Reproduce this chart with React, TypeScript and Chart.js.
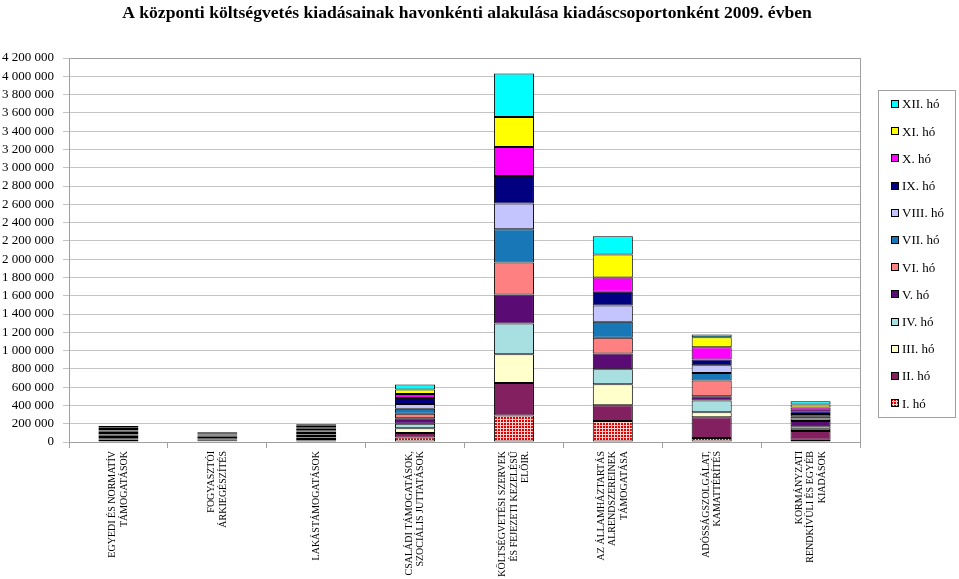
import React, { useEffect, useRef } from "react";
import { Chart, registerables } from "chart.js";

Chart.register(...registerables);

const TITLE = "A központi költségvetés kiadásainak havonkénti alakulása kiadáscsoportonként 2009. évben";

const categories: string[][] = [
  ["EGYEDI ÉS NORMATÍV", "TÁMOGATÁSOK"],
  ["FOGYASZTÓI", "ÁRKIEGÉSZÍTÉS"],
  ["LAKÁSTÁMOGATÁSOK"],
  ["CSALÁDI TÁMOGATÁSOK,", "SZOCIÁLIS JUTTATÁSOK"],
  ["KÖLTSÉGVETÉSI SZERVEK", "ÉS FEJEZETI KEZELÉSŰ", "ELŐIR."],
  ["AZ ÁLLAMHÁZTARTÁS", "ALRENDSZEREINEK", "TÁMOGATÁSA"],
  ["ADÓSSÁGSZOLGÁLAT,", "KAMATTÉRÍTÉS"],
  ["KORMÁNYZATI", "RENDKÍVÜLI ÉS EGYÉB", "KIADÁSOK"],
];

const monthLabels = ["I. hó", "II. hó", "III. hó", "IV. hó", "V. hó", "VI. hó", "VII. hó", "VIII. hó", "IX. hó", "X. hó", "XI. hó", "XII. hó"];

// values per month, one entry per category
const m01 = [12000, 9000, 17000, 48000, 289000, 230000, 45000, 25000];
const m02 = [14000, 9000, 17000, 50000, 357000, 172000, 225000, 96000];
const m03 = [14000, 9000, 16000, 52000, 314000, 230000, 55000, 25000];
const m04 = [15000, 9000, 16000, 50000, 336000, 164000, 128000, 25000];
const m05 = [14000, 9000, 15000, 60000, 317000, 172000, 47000, 60000];
const m06 = [14000, 9000, 17000, 50000, 350000, 171000, 172000, 25000];
const m07 = [16000, 9000, 16000, 55000, 364000, 175000, 84000, 25000];
const m08 = [14000, 9000, 15000, 50000, 281000, 179000, 83000, 25000];
const m09 = [14000, 9000, 16000, 65000, 302000, 149000, 62000, 30000];
const m10 = [14000, 9000, 16000, 45000, 317000, 157000, 135000, 40000];
const m11 = [14000, 9000, 16000, 50000, 328000, 252000, 109000, 35000];
const m12 = [20000, 9000, 17000, 55000, 475000, 200000, 30000, 36000];

const monthValues = [m01, m02, m03, m04, m05, m06, m07, m08, m09, m10, m11, m12];

const monthColors = ["#E80000", "#822060", "#FFFFCC", "#A8E0E2", "#5A0C74", "#FF8080", "#1877B6", "#C4C4FF", "#000080", "#FF00FF", "#FFFF00", "#00FFFF"];

const Y_MAX = 4200000;
const Y_STEP = 200000;

const SERIF = "'Liberation Serif', 'Times New Roman', serif";

function makeCheck(): CanvasPattern | string {
  const c = document.createElement("canvas");
  c.width = 3;
  c.height = 3;
  const g = c.getContext("2d");
  if (!g) return "#E80000";
  g.fillStyle = "#E00000";
  g.fillRect(0, 0, 3, 3);
  g.fillStyle = "#FFD0D0";
  g.fillRect(2, 0, 1, 3);
  g.fillRect(0, 2, 3, 1);
  const p = g.createPattern(c, "repeat");
  return p || "#E80000";
}

function fmt(v: number): string {
  return String(v).replace(/\B(?=(\d{3})+(?!\d))/g, " ");
}

export default function App() {
  const ref = useRef<HTMLCanvasElement | null>(null);

  useEffect(() => {
    if (!ref.current) return;
    const check = makeCheck();

    const datasets = monthValues.map((vals, i) => ({
      label: monthLabels[i],
      data: vals,
      backgroundColor: i === 0 ? check : monthColors[i],
      borderColor: "#000000",
      borderWidth: 1,
      borderSkipped: false as const,
      barPercentage: 0.405,
      categoryPercentage: 1,
    }));

    const deco = {
      id: "deco",
      afterDraw(chart: any) {
        const ctx = chart.ctx as CanvasRenderingContext2D;
        const a = chart.chartArea;
        ctx.save();
        // plot border
        ctx.strokeStyle = "#A0A0A0";
        ctx.lineWidth = 1;
        ctx.strokeRect(Math.round(a.left) + 0.5, Math.round(a.top) + 0.5, Math.round(a.right - a.left), Math.round(a.bottom - a.top));
        // title
        ctx.fillStyle = "#000";
        ctx.font = "bold 17.6px " + SERIF;
        ctx.textAlign = "center";
        ctx.textBaseline = "middle";
        ctx.fillText(TITLE, 467, 13);
        // category labels (rotated, multi-line centred on the tick)
        const xs = chart.scales.x;
        const labels = chart.data.labels as string[][];
        ctx.font = "10px " + SERIF;
        ctx.textAlign = "right";
        ctx.textBaseline = "middle";
        const lh = 11.6;
        for (let i = 0; i < labels.length; i++) {
          const px = xs.getPixelForValue(i);
          const lines = labels[i];
          ctx.save();
          ctx.translate(px, a.bottom + 9);
          ctx.rotate(-Math.PI / 2);
          for (let j = 0; j < lines.length; j++) {
            ctx.fillText(lines[j], 0, (j - (lines.length - 1) / 2) * lh);
          }
          ctx.restore();
        }
        // legend
        const lx = 878, ly = 90, lw = 77, lhh = 327;
        ctx.strokeStyle = "#A0A0A0";
        ctx.strokeRect(lx + 0.5, ly + 0.5, lw, lhh);
        ctx.font = "13px " + SERIF;
        ctx.textAlign = "left";
        const ds = chart.data.datasets;
        for (let k = 0; k < ds.length; k++) {
          const idx = ds.length - 1 - k;
          const cy = 104 + k * 27.2;
          ctx.fillStyle = ds[idx].backgroundColor;
          ctx.fillRect(891, Math.round(cy - 4), 8, 8);
          ctx.strokeStyle = "#000";
          ctx.strokeRect(891.5, Math.round(cy - 4) + 0.5, 7, 7);
          ctx.fillStyle = "#000";
          ctx.fillText(ds[idx].label, 902, cy + 1);
        }
        ctx.restore();
      },
    };

    const chart = new Chart(ref.current, {
      type: "bar",
      data: { labels: categories as any, datasets },
      options: {
        responsive: false,
        animation: false,
        layout: { padding: { top: 58, right: 99, left: 0, bottom: 0 } },
        plugins: {
          legend: { display: false },
          title: { display: false },
          tooltip: { enabled: false },
        },
        scales: {
          x: {
            stacked: true,
            grid: { drawOnChartArea: false, drawTicks: true, tickLength: 6, color: "#A0A0A0", offset: true },
            border: { display: true, color: "#A0A0A0" },
            ticks: { display: false },
            afterFit(s: any) {
              s.height = 137;
              s.paddingLeft = 0;
              s.paddingRight = 0;
            },
          },
          y: {
            stacked: true,
            min: 0,
            max: Y_MAX,
            grid: { color: "#C4C4C4", tickLength: 6, drawTicks: true },
            border: { display: true, color: "#A0A0A0" },
            ticks: {
              stepSize: Y_STEP,
              autoSkip: false,
              padding: 9,
              color: "#000",
              font: { family: SERIF, size: 13 },
              callback: (v: any) => fmt(Number(v)),
            },
            afterFit(s: any) {
              s.width = 69;
              s.paddingTop = 0;
              s.paddingBottom = 0;
            },
          },
        },
      },
      plugins: [deco],
    });

    return () => chart.destroy();
  }, []);

  return (
    <div style={{ position: "absolute", left: 0, top: 0, width: 959, height: 579, background: "#fff" }}>
      <canvas ref={ref} width={959} height={579} style={{ display: "block" }} />
    </div>
  );
}
